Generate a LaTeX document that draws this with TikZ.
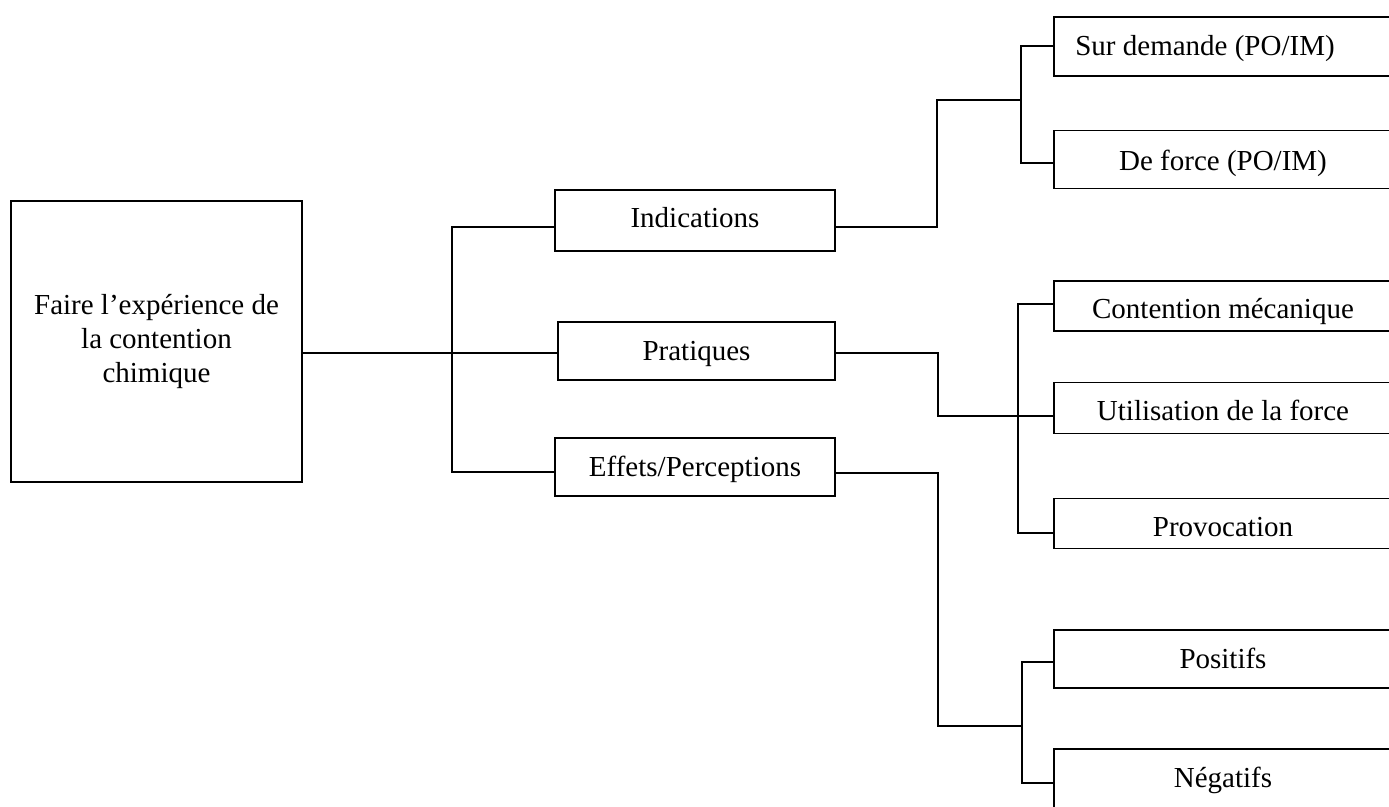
\documentclass[tikz,border=0pt]{standalone}
\usepackage{fontspec}
\setmainfont{Liberation Serif}
\begin{document}
\begin{tikzpicture}[x=1pt,y=-1pt,
  box/.style={draw=black,line width=1.2pt,rectangle,inner sep=0pt,align=center,
    font=\fontsize{29}{34}\selectfont},
  base/.style={text height=#1pt,text depth=0pt},
  conn/.style={draw=black,line width=1.2pt}]
\useasboundingbox (0,0) rectangle (1389,806);
\clip (0,0) rectangle (1389,806);
% root
\node[box,minimum width=291pt,minimum height=281pt] (main) at (156.5,341.5)
  {Faire l’expérience de\\la contention\\chimique};
% level 1
\node[box,base=13.4,minimum width=280pt,minimum height=61pt] (ind) at (695,220.5) {Indications};
\node[box,base=18,minimum width=277pt,minimum height=58pt] (prat) at (696.5,351) {Pratiques};
\node[box,base=19,minimum width=280pt,minimum height=58pt] (eff) at (695,467) {Effets/Perceptions};
% level 2
\node[box,base=17,minimum width=338pt,minimum height=59pt] (sur) at (1223,46.5) {Sur demande (PO/IM)\hspace*{36pt}};
\node[box,base=21,minimum width=338pt,minimum height=58pt] (force) at (1223,159.5) {De force (PO/IM)};
\node[box,base=24.6,minimum width=338pt,minimum height=50pt] (meca) at (1223,306) {Contention mécanique};
\node[box,base=24,minimum width=338pt,minimum height=51pt] (util) at (1223,408) {Utilisation de la force};
\node[box,base=26,minimum width=338pt,minimum height=50pt] (prov) at (1223,523.5) {Provocation};
\node[box,base=18,minimum width=338pt,minimum height=58pt] (pos) at (1223,659) {Positifs};
\node[box,base=18,minimum width=338pt,minimum height=59pt] (neg) at (1223,778.5) {Négatifs};
% junction coordinates
\coordinate (j0) at (452,353);
\coordinate (j1) at (937,100);
\coordinate (j2) at (938,416);
\coordinate (j3) at (938,726);
\coordinate (b1) at (1021,100);
\coordinate (b3) at (1022,726);
% root to level 1
\draw[conn] (main.east |- j0) -- (prat.west |- j0);
\draw[conn] (ind.west |- 0,227) -- (452,227) -- (452,472) -- (eff.west |- 0,472);
% Indications
\draw[conn] (ind.east |- 0,227) -| (j1) -- (b1);
\draw[conn] (sur.west |- 0,46) -- (1021,46) -- (1021,163) -- (force.west |- 0,163);
% Pratiques
\draw[conn] (prat.east |- 0,353) -| (j2) -- (util.west |- j2);
\draw[conn] (meca.west |- 0,304) -- (1018,304) -- (1018,533) -- (prov.west |- 0,533);
% Effets
\draw[conn] (eff.east |- 0,473) -| (j3) -- (b3);
\draw[conn] (pos.west |- 0,662) -- (1022,662) -- (1022,783) -- (neg.west |- 0,783);
\end{tikzpicture}
\end{document}
